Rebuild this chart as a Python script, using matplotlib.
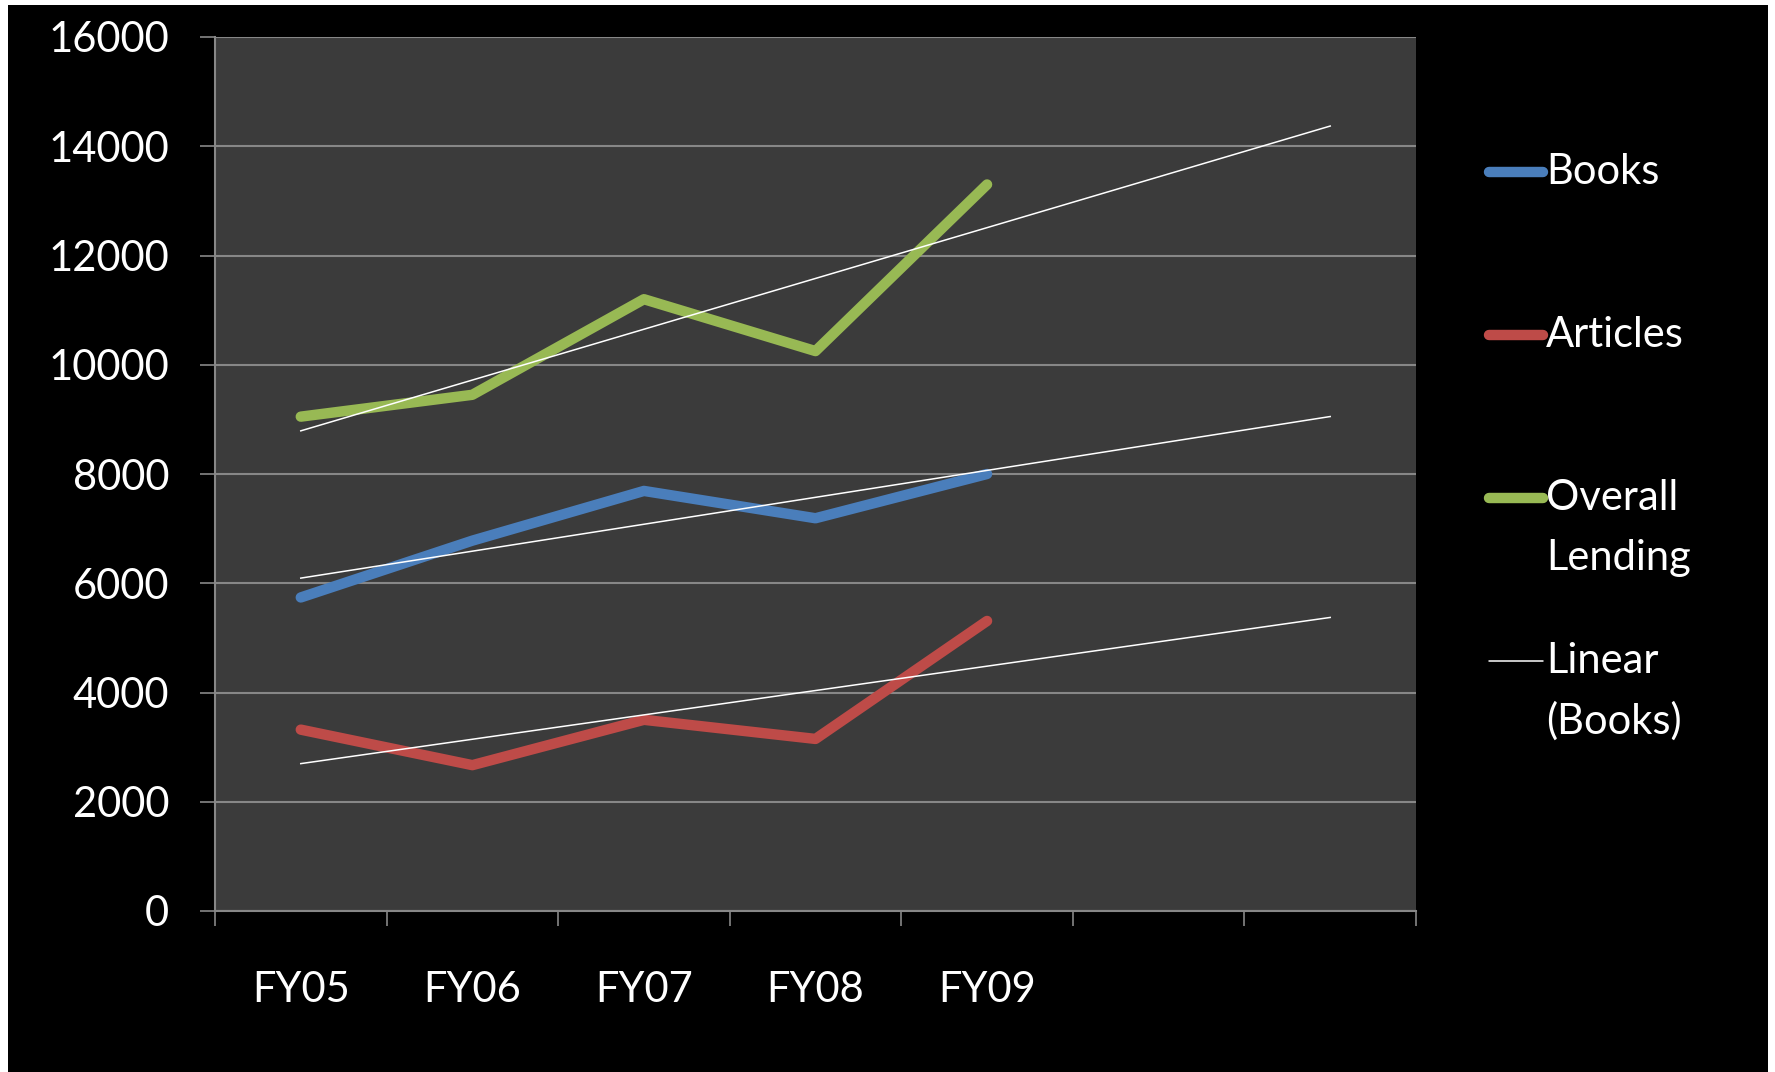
import numpy as np
import matplotlib.pyplot as plt
from matplotlib.lines import Line2D
from matplotlib.patches import Rectangle

# lending per fiscal year
years = ["FY05", "FY06", "FY07", "FY08", "FY09"]
books = [5740, 6780, 7690, 7190, 8000]
articles = [3320, 2670, 3500, 3150, 5310]
overall = [9050, 9450, 11200, 10250, 13300]
forecast = 2  # trendlines run two periods forward

series = [("Books", books, "#4a7ebb"),
          ("Articles", articles, "#be4b48"),
          ("Overall\nLending", overall, "#98b954")]

plt.rcParams['font.family'] = ['Lato', 'DejaVu Sans']

W, H = 1775, 1072
fig = plt.figure(figsize=(W / 100, H / 100), dpi=100, facecolor='white')
fig.add_artist(Rectangle((8 / W, 0), (1768 - 8) / W, (H - 5) / H,
                         transform=fig.transFigure, facecolor='black',
                         edgecolor='none', zorder=-10))

ax = fig.add_axes([215 / W, (H - 911) / H, (1416 - 215) / W, (911 - 37) / H])
ax.set_facecolor('#3b3b3b')

n = len(years)
x = np.arange(1, n + 1)
xt = np.arange(1, n + forecast + 1)

for name, vals, color in series:
    ax.plot(x, vals, color=color, lw=7.5, solid_capstyle='round',
            solid_joinstyle='round', zorder=3)
for name, vals, color in series:
    k, b = np.polyfit(x, vals, 1)
    ax.plot(xt, k * xt + b, color='white', lw=1.1, zorder=4)

ax.set_xlim(0.5, n + forecast + 0.5)
ax.set_ylim(0, 16000)
ax.set_yticks(np.arange(0, 16001, 2000))
ax.grid(axis='y', color='#878787', lw=1.5)
ax.set_axisbelow(True)

ax.set_xticks(np.arange(0.5, n + forecast + 1))
ax.set_xticklabels([])
ax.set_xticks(x, minor=True)
ax.set_xticklabels(years, minor=True)
ax.tick_params(axis='x', which='major', length=11, width=1.2, color='#878787')
ax.tick_params(axis='x', which='minor', length=0, pad=43.5, labelsize=30,
               labelcolor='white')
ax.tick_params(axis='y', length=11, width=1.2, color='#878787', pad=22,
               labelsize=30, labelcolor='white')

for s in ['top', 'right']:
    ax.spines[s].set_visible(False)
for s in ['left', 'bottom']:
    ax.spines[s].set_color('#878787')
    ax.spines[s].set_linewidth(1.5)

# legend, drawn by hand so the handle sits on the first text line
entries = [(name, color, 7.5) for name, _, color in series]
entries.append(("Linear\n(Books)", 'white', 1.1))
y0, step, line_h = 172, 163, 60
for i, (label, color, lw) in enumerate(entries):
    yc = y0 + i * step
    fig.add_artist(Line2D([1489 / W, 1543 / W], [1 - yc / H, 1 - yc / H],
                          color=color, lw=lw, solid_capstyle='round'))
    for j, part in enumerate(label.split("\n")):
        fig.text(1546 / W, 1 - (yc + j * line_h) / H, part, color='white',
                 fontsize=30, va='center', ha='left')

fig.savefig('out.png', dpi=100, facecolor=fig.get_facecolor())
